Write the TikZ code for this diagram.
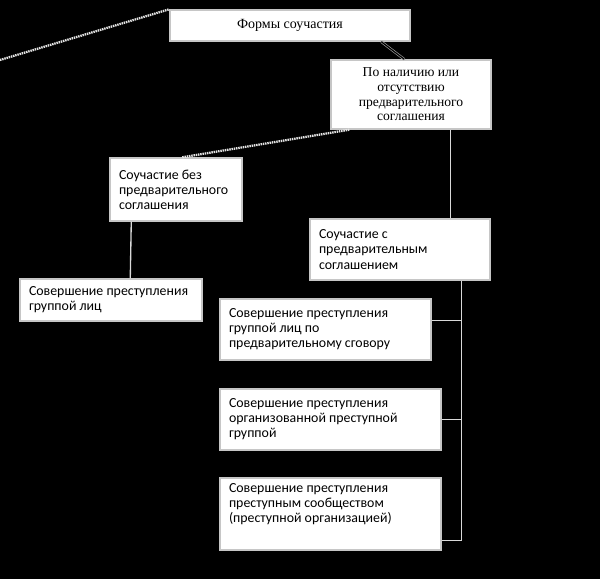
\documentclass[tikz,border=0pt]{standalone}
\usepackage{fontspec}
\setmainfont{Liberation Serif}
\newfontfamily\lowfont{Carlito}
\usetikzlibrary{calc}
\newcommand{\boxpar}[4]{\parbox[c][#1][#2]{#3}{#4}}
\tikzset{
  box/.style={draw=gray!45, line width=1.1pt, fill=white, inner xsep=6.75pt, inner ysep=0pt, text=black},
  topbox/.style={box, font=\fontsize{10.2}{11}\selectfont},
  lowbox/.style={box, font=\lowfont\fontsize{10.4}{11.3}\selectfont},
  conn/.style={draw=white!85!black, line width=1pt},
  dline/.style={draw=white!90!black, line width=1.7pt, dash pattern=on 1.1pt off 0.6pt},
  dbl/.style={draw=gray!75, line width=0.5pt, double=black, double distance=0.9pt}
}
\begin{document}
\begin{tikzpicture}[x=0.75pt, y=-0.75pt]
\fill[black] (0,0) rectangle (600,579);
\useasboundingbox (0,0) rectangle (600,579);

\node[topbox, font=\fontsize{10.5}{11}\selectfont] (b1) at (290,25.5) {\boxpar{23.25pt}{c}{166.5pt}{\centering Формы соучастия}};
\node[topbox] (b2) at (411,94.5) {\boxpar{51.75pt}{c}{106.5pt}{\centering По наличию или\\ отсутствию\\ предварительного\\ соглашения}};
\node[lowbox] (b3) at (176,189.5) {\boxpar{47.25pt}{c}{85.5pt}{\raggedright Соучастие без\\ предварительного\\ соглашения}};
\node[lowbox] (b4) at (111,300) {\boxpar{31.5pt}{c}{123pt}{\raggedright Совершение преступления\\ группой лиц}};
\node[lowbox] (b5) at (400,249.5) {\boxpar{45.75pt}{c}{121.5pt}{\raggedright Соучастие с\\ предварительным\\ соглашением}};
\node[lowbox] (b6) at (325.5,329.5) {\boxpar{45.75pt}{c}{144.75pt}{\raggedright Совершение преступления\\ группой лиц по\\ предварительному сговору}};
\node[lowbox] (b7) at (330.5,419.5) {\boxpar{45.75pt}{c}{152.25pt}{\raggedright Совершение преступления\\ организованной преступной\\ группой}};
\node[lowbox] (b8) at (330.5,514) {\boxpar{54pt}{t}{152.25pt}{\vspace*{4pt}\raggedright Совершение преступления\\ преступным сообществом\\ (преступной организацией)}};

\coordinate (lfree) at (0,60);
\draw[dline] (lfree) -- (b1.north west);
\draw[dbl] ($(b1.south west)+(212,0)$) -- ($(b2.north west)+(74,0)$);
\draw[dline] ($(b2.south west)+(19,0)$) -- ($(b3.north west)+(73,0)$);
\draw[conn] ($(b2.south west)+(120,0)$) -- ($(b5.north west)+(141,0)$);
\draw[conn] ($(b3.south west)+(22,0)$) -- ($(b4.north west)+(111,0)$);
\coordinate (bt) at ($(b5.south west)+(152,0)$);
\draw[conn] (bt) |- ($(b8.south east)+(0,-10)$);
\draw[conn] ($(b6.north east)+(0,22)$) coordinate (p6) -- (p6 -| bt);
\draw[conn] (b7.east) -- (b7.east -| bt);
\end{tikzpicture}
\end{document}
